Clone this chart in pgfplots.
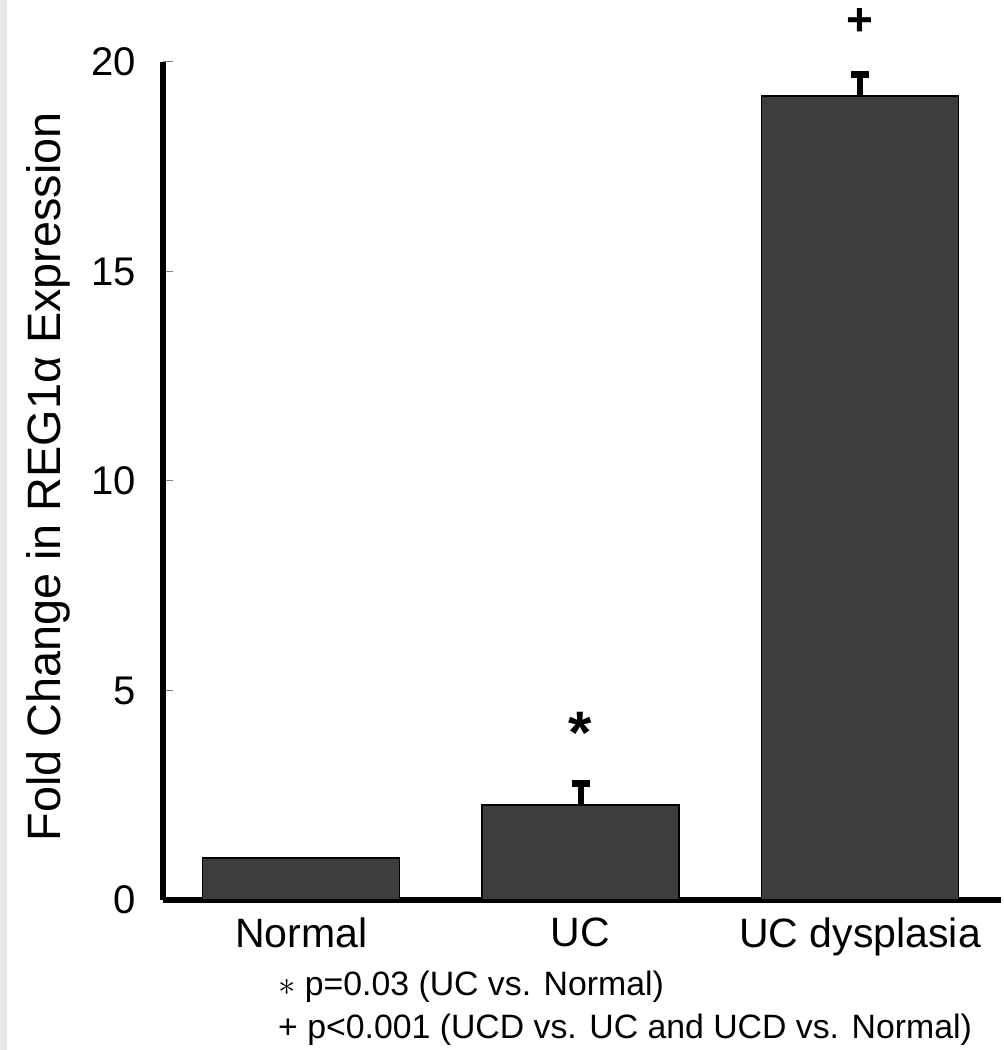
\documentclass[border=0pt]{standalone}
\usepackage{pgfplots}
\pgfplotsset{compat=1.18}
\usepackage{fontspec}
\setmainfont{Liberation Sans}
\definecolor{barcol}{HTML}{3D3D3D}
\definecolor{stripcol}{HTML}{E8E8E8}
\begin{document}
\begin{tikzpicture}
\begin{axis}[
  scale only axis,
  width=419pt, height=419pt,
  xmin=-0.494, xmax=2.504,
  ymin=0, ymax=20,
  axis x line=bottom, axis y line=left,
  axis line style={line width=3pt, -},
  clip=false,
  xtick={0,1,2},
  xticklabels={Normal,UC,UC dysplasia},
  x tick style={draw=none},
  major tick length=5pt,
  tick align=inside,
  ytick={0,5,10,15,20},
  y tick style={gray, line width=0.5pt},
  /pgf/number format/assume math mode=true,
  yticklabel style={font=\fontsize{20}{22}\selectfont, xshift=-10pt},
  xticklabel style={font=\fontsize{20.5}{22}\selectfont, yshift=-5.5pt},
  ylabel={Fold Change in REG1α Expression},
  ylabel style={font=\fontsize{23.4}{26}\selectfont, at={(rel axis cs:-0.137,0.505)}, anchor=center, rotate=0},
]
\fill[stripcol] (rel axis cs:-0.1945,-0.179) rectangle (rel axis cs:-0.186,1.074);
\path (rel axis cs:-0.1945,-0.179) rectangle (rel axis cs:1,1.074);
\addplot[ybar, bar width=0.705, fill=barcol, draw=black, line width=0.8pt]
  coordinates {(0,1.00) (1,2.27) (2,19.19)};
\addplot[draw=none, mark=none, forget plot,
  error bars/.cd, y dir=plus, y explicit,
  error bar style={line width=3pt, black},
  error mark options={rotate=90, line width=3.5pt, mark size=4.5pt, black}]
  coordinates {(1,2.27) +- (0,0.50) (2,19.19) +- (0,0.50)};
\node[font=\bfseries\fontsize{30}{30}\selectfont] at (axis cs:1,4.0) {*};
\node[font=\bfseries\fontsize{23}{23}\selectfont, inner sep=0pt] at (axis cs:2,20.95) {+};
\node[anchor=west, font=\fontsize{16.9}{19}\selectfont, inner sep=0pt] at (rel axis cs:0.137,-0.1038) {$\ast$ p=0.03 (UC vs. Normal)};
\node[anchor=west, font=\fontsize{16.9}{19}\selectfont, inner sep=0pt] at (rel axis cs:0.137,-0.1551) {+ p<0.001 (UCD vs. UC and UCD vs. Normal)};
\end{axis}
\end{tikzpicture}
\end{document}
